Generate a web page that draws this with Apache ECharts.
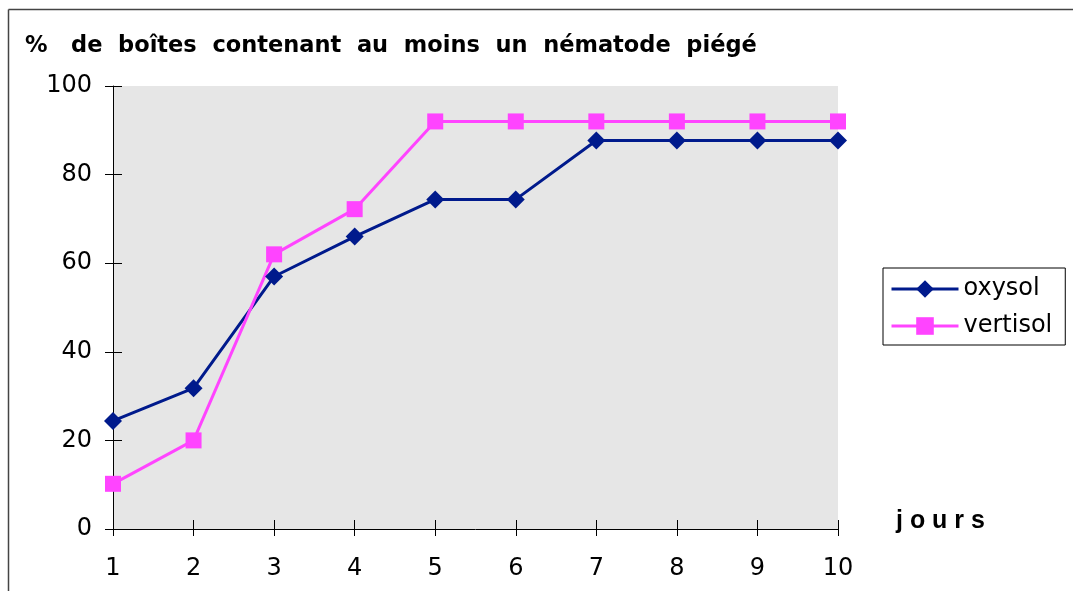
<!DOCTYPE html>
<html>
<head>
<meta charset="utf-8">
<script src="https://cdn.jsdelivr.net/npm/echarts@6/dist/echarts.min.js"></script>
<style>
  html, body { margin: 0; padding: 0; background: #fff; }
  #chart { width: 1073px; height: 591px; }
</style>
</head>
<body>
<div id="chart"></div>
<script>
// jours 1..10
var jours = ['1', '2', '3', '4', '5', '6', '7', '8', '9', '10'];
// % de boites avec au moins un nematode piege
var oxysol = [24.4, 31.8, 57, 66, 74.4, 74.4, 87.7, 87.7, 87.7, 87.7];
var vertisol = [10.2, 20, 62, 72.2, 92, 92, 92, 92, 92, 92];
var yTicks = [0, 20, 40, 60, 80, 100];

var myChart = echarts.init(document.getElementById('chart'));
var font = 'DejaVu Sans';

var option = {
  backgroundColor: '#fff',
  animation: false,
  title: {
    text: '%   de  boîtes  contenant  au  moins  un  nématode  piégé',
    left: 20,
    top: 30,
    textStyle: { color: '#000', fontSize: 22.5, fontWeight: 'bold', fontFamily: font }
  },
  legend: {
    left: 883,
    top: 268,
    orient: 'vertical',
    itemWidth: 67,
    itemHeight: 22,
    itemGap: 11,
    padding: [8, 13, 6, 7],
    borderColor: '#000',
    borderWidth: 1,
    lineStyle: { width: 3 },
    textStyle: { color: '#000', fontSize: 24, fontFamily: font, lineHeight: 26 },
    data: ['oxysol', 'vertisol']
  },
  grid: {
    left: 113, right: 235, top: 86, bottom: 62,
    show: true, backgroundColor: '#e6e6e6', borderWidth: 0
  },
  xAxis: [{
    type: 'category',
    data: jours,
    boundaryGap: false,
    axisLine: { lineStyle: { color: '#000', width: 1 } },
    axisTick: { length: 7, lineStyle: { color: '#000' } },
    axisLabel: { color: '#000', fontSize: 24, fontFamily: font, margin: 28 },
    splitLine: { show: false }
  }, {
    type: 'category',
    data: jours,
    boundaryGap: false,
    position: 'bottom',
    axisLine: { show: true, lineStyle: { color: 'rgba(0,0,0,0)' } },
    axisTick: { show: true, inside: true, length: 9, lineStyle: { color: '#000' } },
    axisLabel: { show: false }
  }],
  yAxis: [{
    type: 'value',
    min: 0, max: 100, interval: 20,
    axisLine: { show: true, lineStyle: { color: '#000', width: 1 } },
    axisTick: { show: true, length: 8, lineStyle: { color: '#000' } },
    axisLabel: {
      color: '#000', fontSize: 24, fontFamily: font, margin: 21,
      formatter: function (v) { return yTicks.indexOf(v) >= 0 ? String(v) : ''; }
    },
    splitLine: { show: false }
  }, {
    type: 'value',
    min: 0, max: 100, interval: 20,
    position: 'left',
    axisLine: { show: true, lineStyle: { color: 'rgba(0,0,0,0)' } },
    axisTick: { show: true, inside: true, length: 9, lineStyle: { color: '#000' } },
    axisLabel: { show: false },
    splitLine: { show: false }
  }],
  graphic: [
    { type: 'line', shape: { x1: 8.5, y1: 591, x2: 8.5, y2: 9.5 }, style: { stroke: '#444', lineWidth: 1.5 } },
    { type: 'line', shape: { x1: 8.5, y1: 9.5, x2: 1073, y2: 9.5 }, style: { stroke: '#444', lineWidth: 1.5 } },
    {
      type: 'text', left: 896, top: 509,
      style: { text: 'j o u r s', fill: '#000', fontSize: 25, fontWeight: 'bold', fontFamily: 'Liberation Sans' }
    }
  ],
  series: [{
    name: 'oxysol',
    type: 'line',
    data: oxysol,
    symbol: 'diamond',
    symbolSize: 18,
    lineStyle: { color: '#001a8c', width: 3 },
    itemStyle: { color: '#001a8c' }
  }, {
    name: 'vertisol',
    type: 'line',
    data: vertisol,
    symbol: 'rect',
    symbolSize: 16,
    lineStyle: { color: '#ff44ff', width: 3 },
    itemStyle: { color: '#ff44ff' }
  }]
};
myChart.setOption(option);
</script>
</body>
</html>
